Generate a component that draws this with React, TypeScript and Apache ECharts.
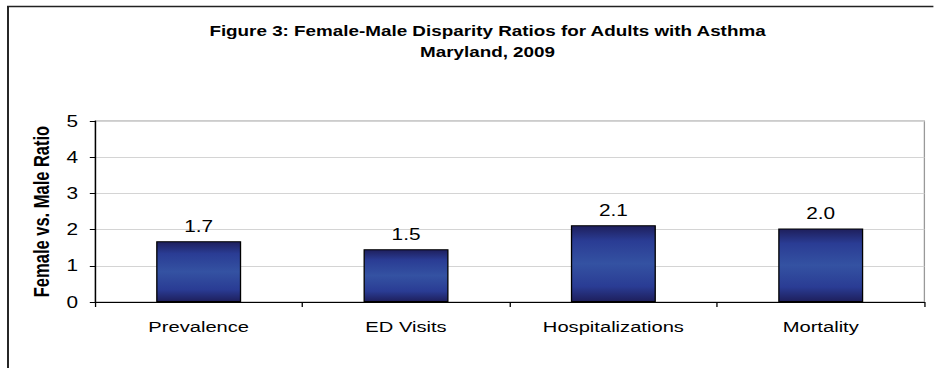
import React, { useEffect, useRef } from "react";
import * as echarts from "echarts";

const categories = ["Prevalence", "ED Visits", "Hospitalizations", "Mortality"];
const ratios = [1.68, 1.46, 2.12, 2.03];
const yTicks = [0, 1, 2, 3, 4, 5];
const titleLines = ["Figure 3: Female-Male Disparity Ratios for Adults with Asthma", "Maryland, 2009"];
const yAxisName = "Female vs. Male Ratio";

const FONT = "'Liberation Sans', Arial, sans-serif";
// The reference picture is stretched horizontally; draw in a narrower box and stretch it.
const STRETCH = 1.3;
const W = 934 / STRETCH;
const H = 368;
const sx = (v: number) => v / STRETCH;

export default function App() {
  const ref = useRef<HTMLDivElement>(null);
  useEffect(() => {
    if (!ref.current) return;
    const chart = echarts.init(ref.current, null, { renderer: "svg" });
    chart.setOption({
      animation: false,
      backgroundColor: "#ffffff",
      title: {
        text: titleLines.join("\n"),
        left: sx(481),
        textAlign: "center",
        top: 16,
        textStyle: { fontFamily: FONT, fontSize: 14.5, fontWeight: "bold", color: "#000", lineHeight: 21 },
      },
      graphic: [
        {
          type: "rect",
          shape: { x: sx(8), y: 6.5, width: 1000, height: 500 },
          style: { fill: "none", stroke: "#222", lineWidth: 1.5 },
          silent: true,
        },
      ],
      grid: {
        left: sx(95),
        right: sx(9),
        top: 121,
        bottom: 66,
        show: true,
        borderColor: "#999",
        borderWidth: 1,
      },
      xAxis: {
        type: "category",
        data: categories,
        axisLine: { lineStyle: { color: "#000", width: 1 } },
        axisTick: { show: true, alignWithLabel: false, length: 5, lineStyle: { color: "#000" } },
        axisLabel: { fontFamily: FONT, fontSize: 15.5, color: "#000", margin: 17 },
      },
      yAxis: {
        type: "value",
        min: yTicks[0],
        max: yTicks[yTicks.length - 1],
        interval: 1,
        name: yAxisName,
        nameLocation: "middle",
        nameGap: 32,
        nameTextStyle: { fontFamily: FONT, fontSize: 16.5, fontWeight: "bold", color: "#000" },
        axisLine: { show: true, lineStyle: { color: "#000", width: 1 } },
        axisTick: { show: true, length: 4, lineStyle: { color: "#000" } },
        axisLabel: { fontFamily: FONT, fontSize: 16, color: "#000", margin: 13 },
        splitLine: { show: true, lineStyle: { color: "#d4d4d4", width: 1 } },
      },
      series: [
        {
          type: "bar",
          data: ratios,
          barWidth: sx(85),
          itemStyle: {
            borderColor: "#000",
            borderWidth: 1,
            color: new echarts.graphic.LinearGradient(0, 0, 0, 1, [
              { offset: 0, color: "#1e1f5c" },
              { offset: 0.2, color: "#2a3c94" },
              { offset: 0.5, color: "#3452a2" },
              { offset: 0.8, color: "#2a3c94" },
              { offset: 1, color: "#1e1f5c" },
            ]),
          },
          label: {
            show: true,
            position: "top",
            distance: 7,
            fontFamily: FONT,
            fontSize: 16,
            color: "#000",
            formatter: (p: any) => Number(p.value).toFixed(1),
          },
        },
      ],
    });
    return () => chart.dispose();
  }, []);
  return (
    <div
      ref={ref}
      style={{
        position: "absolute",
        left: 0,
        top: 0,
        width: W,
        height: H,
        transform: `scaleX(${STRETCH})`,
        transformOrigin: "0 0",
      }}
    />
  );
}
